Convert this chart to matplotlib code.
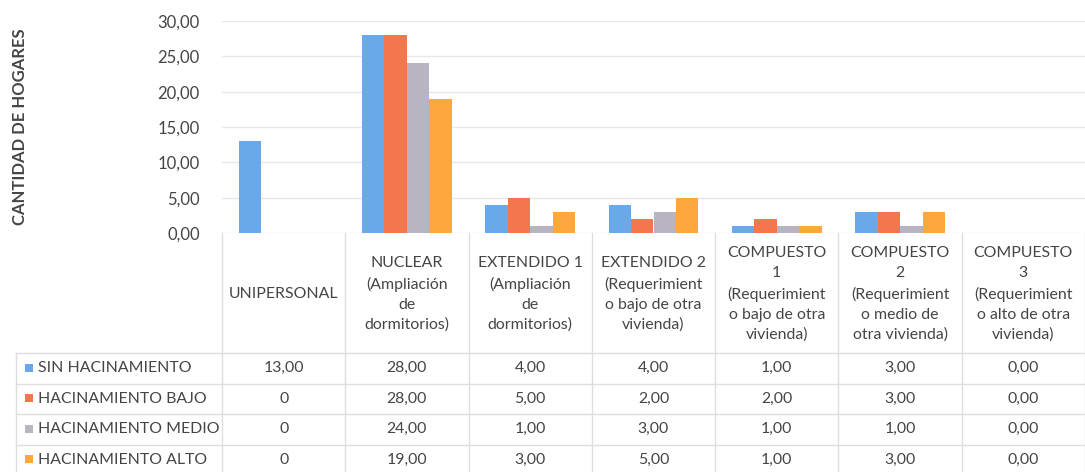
import matplotlib
matplotlib.use("Agg")
import matplotlib.pyplot as plt
import matplotlib.transforms as mtransforms
from matplotlib.patches import Rectangle
import numpy as np

plt.rcParams['font.family'] = ['Lato', 'DejaVu Sans']

categories = [
    "UNIPERSONAL",
    "NUCLEAR\n(Ampliación\nde\ndormitorios)",
    "EXTENDIDO 1\n(Ampliación\nde\ndormitorios)",
    "EXTENDIDO 2\n(Requerimient\no bajo de otra\nvivienda)",
    "COMPUESTO\n1\n(Requerimient\no bajo de otra\nvivienda)",
    "COMPUESTO\n2\n(Requerimient\no medio de\notra vivienda)",
    "COMPUESTO\n3\n(Requerimient\no alto de otra\nvivienda)",
]
series_names = ["SIN HACINAMIENTO", "HACINAMIENTO BAJO",
                "HACINAMIENTO MEDIO", "HACINAMIENTO ALTO"]
sin_hacinamiento = [13, 28, 4, 4, 1, 3, 0]
hacinamiento_bajo = [0, 28, 5, 2, 2, 3, 0]
hacinamiento_medio = [0, 24, 1, 3, 1, 1, 0]
hacinamiento_alto = [0, 19, 3, 5, 1, 3, 0]
series_values = [sin_hacinamiento, hacinamiento_bajo,
                 hacinamiento_medio, hacinamiento_alto]
# table cells as printed (the empty series in UNIPERSONAL show a bare 0)
table_labels = [
    ["13,00", "28,00", "4,00", "4,00", "1,00", "3,00", "0,00"],
    ["0", "28,00", "5,00", "2,00", "2,00", "3,00", "0,00"],
    ["0", "24,00", "1,00", "3,00", "1,00", "1,00", "0,00"],
    ["0", "19,00", "3,00", "5,00", "1,00", "3,00", "0,00"],
]
y_ticks = [0, 5, 10, 15, 20, 25, 30]
y_label = "CANTIDAD DE HOGARES"

colors = ["#6aa9e9", "#f4764e", "#b9b4c2", "#fda73c"]
text_color = "#454545"
line_color = "#dedede"
table_fs = 11.4

W, H = 1085, 472
fig = plt.figure(figsize=(W / 100, H / 100), dpi=100)
fig.patch.set_facecolor("white")

# plot area in pixels
x0, x1 = 222, 1085
y_top, y_zero = 21, 233
ax = fig.add_axes([x0 / W, (H - y_zero) / H, (x1 - x0) / W, (y_zero - y_top) / H])

n = len(categories)
x = np.arange(n)
bw = 0.182
for j, vals in enumerate(series_values):
    ax.bar(x + (j - 1.5) * bw, vals, width=bw, color=colors[j],
           linewidth=0, zorder=3)

ax.set_xlim(-0.5, n - 0.5)
ax.set_ylim(0, 30)
ax.set_yticks(y_ticks)
ax.set_yticklabels([f"{v:.2f}".replace(".", ",") for v in y_ticks],
                   fontsize=12, color=text_color)
ax.tick_params(axis="y", length=0, pad=16)
ax.set_xticks([])
ax.grid(axis="y", color="#e8e8e8", linewidth=1, zorder=0)
for s in ax.spines.values():
    s.set_visible(False)

# overlay in pixel coordinates for the data table
tab = fig.add_axes([0, 0, 1, 1], facecolor="none")
tab.set_xlim(0, W)
tab.set_ylim(H, 0)
tab.axis("off")
blend = mtransforms.blended_transform_factory(ax.transData, tab.transData)

fig.text(20 / W, 1 - 127 / H, y_label, rotation=90, ha="center", va="center",
         fontsize=12, fontweight="bold", color=text_color)

header_top, header_bottom = 233, 353
row_h = 30.5
row_tops = [header_bottom + k * row_h for k in range(len(series_names) + 1)]

# grid of the table
for k in range(n + 1):
    tab.plot([k - 0.5, k - 0.5], [header_top, H], color=line_color, lw=1,
             transform=blend, clip_on=False)
tab.plot([16, 16], [header_bottom, H], color=line_color, lw=1)
for yy in row_tops[:-1]:
    tab.plot([16, W], [yy, yy], color=line_color, lw=1)

# header labels
for i, cat in enumerate(categories):
    tab.text(i, 294, cat, transform=blend, ha="center", va="center",
             fontsize=table_fs, color=text_color, linespacing=1.55)

# series rows
for j, name in enumerate(series_names):
    yc = row_tops[j] + row_h / 2
    tab.add_patch(Rectangle((25, yc - 4.5), 8, 8, color=colors[j], lw=0))
    tab.text(38, yc, name, ha="left", va="center", fontsize=table_fs,
             color=text_color)
    for i in range(n):
        tab.text(i, yc, table_labels[j][i], transform=blend, ha="center",
                 va="center", fontsize=table_fs, color=text_color)

fig.savefig("out.png", dpi=100, facecolor="white")
